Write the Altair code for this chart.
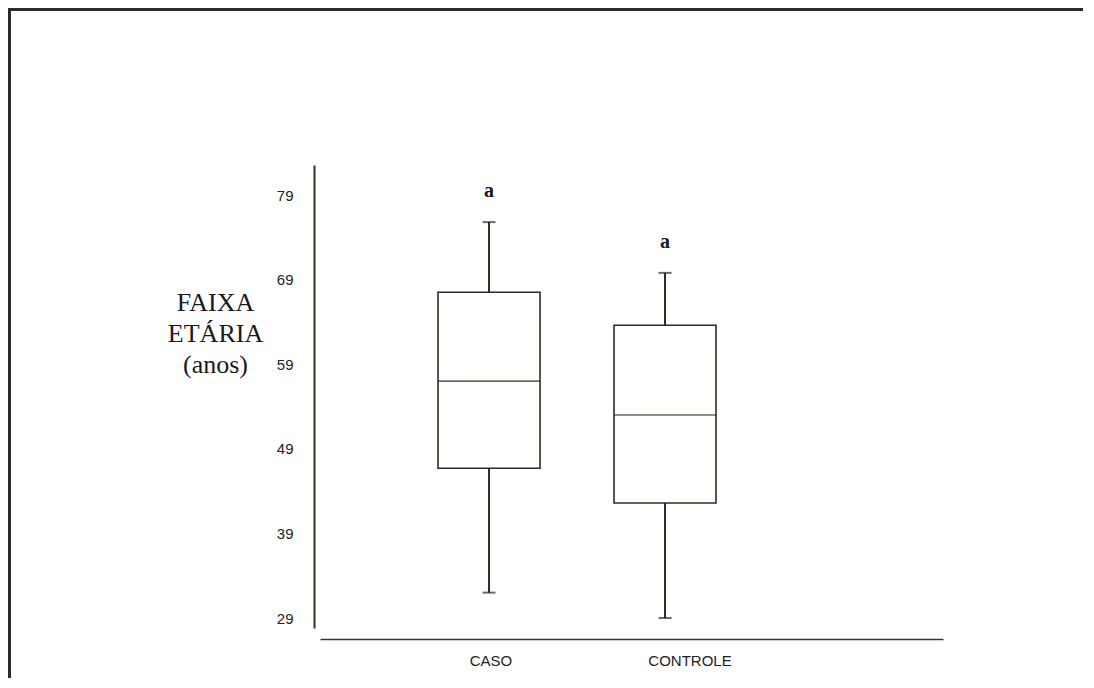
import altair as alt
import pandas as pd

groups = ["CASO", "CONTROLE"]
lower = [32.0, 29.0]
q1 = [46.7, 42.6]
median = [57.0, 53.0]
q3 = [67.5, 63.6]
upper = [75.8, 69.8]
letters = ["a", "a"]
y_ticks = [29, 39, 49, 59, 69, 79]

df = pd.DataFrame({"grupo": groups, "lower": lower, "q1": q1, "median": median,
                   "q3": q3, "upper": upper, "letra": letters})

LINE = "#2b2d1f"
W, H = 623, 463

xscale = alt.Scale(domain=groups, paddingInner=0, paddingOuter=0.77, align=0.299)
yscale = alt.Scale(domain=[27.82, 82.55], nice=False, zero=False)

x_enc = alt.X("grupo:N", scale=xscale, sort=groups, title=None,
              axis=alt.Axis(labelAngle=0, ticks=False, domainColor="#3a3040", domainWidth=1.5,
                            offset=11, labelPadding=14, labelFont="Liberation Sans",
                            labelFontSize=15, labelColor="#222222",
                            labelOffset={"condition": {"test": "datum.value == 'CONTROLE'", "value": 25}, "value": 2},
                            grid=False))

y_axis = alt.Axis(values=y_ticks, ticks=False, grid=False, offset=6, domainColor="#2f3320",
                  domainWidth=2, labelPadding=21, labelFont="Liberation Sans",
                  labelFontSize=15, labelColor="#222222",
                  title=["FAIXA", "ETÁRIA", "(anos)"], titleAngle=0, titleAlign="center",
                  titleBaseline="middle", titleX=-99, titleY=137, titleFont="Liberation Serif",
                  titleFontSize=26, titleFontWeight="normal", titleLineHeight=31, titleColor="#1a1a1a")

base = alt.Chart(df)

whisker = base.mark_rule(color=LINE, strokeWidth=2).encode(
    x=x_enc, y=alt.Y("lower:Q", scale=yscale, axis=y_axis), y2="upper:Q")

box = base.mark_bar(size=102, fill="white", stroke=LINE, strokeWidth=1.6).encode(
    x="grupo:N", y="q1:Q", y2="q3:Q")

med = base.mark_tick(size=102, thickness=1.6, color=LINE).encode(x="grupo:N", y="median:Q")
cap_lo = base.mark_tick(size=13, thickness=2, color=LINE).encode(x="grupo:N", y="lower:Q")
cap_hi = base.mark_tick(size=13, thickness=2, color=LINE).encode(x="grupo:N", y="upper:Q")

letter = base.mark_text(dy=-31, baseline="middle", font="Liberation Serif", fontSize=20,
                        fontWeight="bold", color="#1a1a1a").encode(
    x="grupo:N", y="upper:Q", text="letra:N")

frame_v = alt.Chart(pd.DataFrame({"k": [0]})).mark_rule(color="#2b2b2b", strokeWidth=3).encode(
    x=alt.value(-310.5), y=alt.value(-157), y2=alt.value(540))
frame_h = alt.Chart(pd.DataFrame({"k": [0]})).mark_rule(color="#2b2b2b", strokeWidth=3).encode(
    x=alt.value(-312), x2=alt.value(800), y=alt.value(-155.5))

chart = alt.layer(frame_v, frame_h, whisker, box, med, cap_lo, cap_hi, letter).properties(
    width=W, height=H,
    background="white",
    autosize=alt.AutoSizeParams(type="none"),
    padding={"left": 312, "top": 157, "right": 140, "bottom": 50},
).configure_view(strokeWidth=0, stroke="transparent")

chart.save("out.html", embed_options={"renderer": "svg", "actions": False})
